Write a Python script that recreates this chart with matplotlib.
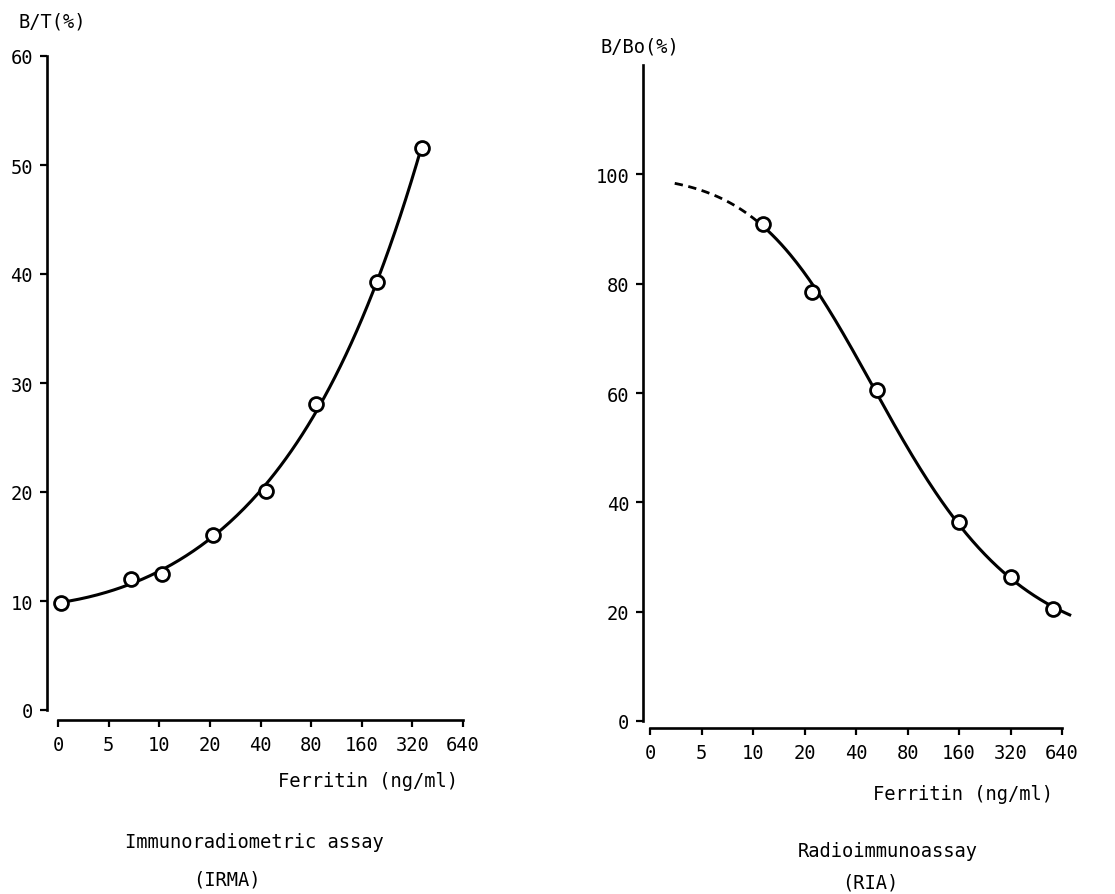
#!/usr/bin/env python3
# -*- coding: utf-8 -*-
"""
Ferritin standard curves: IRMA (B/T) and RIA (B/B0) on a doubling-dilution axis.
"""

import numpy as np
import matplotlib
matplotlib.use("Agg")
import matplotlib.pyplot as plt

# ---- data -----------------------------------------------------------------
x_ticks = [0, 5, 10, 20, 40, 80, 160, 320, 640]

# IRMA standards: ferritin (ng/ml) vs bound/total (%)
irma_conc = [0.3, 6.8, 10.4, 21, 43, 86, 197, 365]
irma_bt = [9.8, 12.0, 12.5, 16.1, 20.1, 28.1, 39.3, 51.6]
irma_yticks = [0, 10, 20, 30, 40, 50, 60]

# RIA standards: ferritin (ng/ml) vs B/B0 (%)
ria_conc = [11.4, 22, 53, 160, 320, 570]
ria_bb0 = [91.0, 78.5, 60.6, 36.4, 26.4, 20.5]
ria_yticks = [0, 20, 40, 60, 80, 100]
ria_dash_start = 2.4    # extrapolated (dashed) part of the fit begins here
ria_curve_end = 710     # fitted line carried a little past the last standard

FONT = "DejaVu Sans Mono"
FS = 13.5
plt.rcParams["font.family"] = FONT


# 0..5 linear, then one step per doubling
def fwd(c):
    c = np.asarray(c, dtype=float)
    return np.where(c < 5, c / 5.0, np.log2(np.maximum(c, 5) / 5.0) + 1)


def inv(p):
    p = np.asarray(p, dtype=float)
    return np.where(p < 1, p * 5.0, 5.0 * 2 ** (np.maximum(p, 1) - 1))


def style_axes(ax, ymax, yticks, left_off, bottom_off):
    ax.set_xscale("function", functions=(fwd, inv))
    ax.set_xlim(0, 640)
    ax.set_ylim(0, ymax)
    ax.set_xticks(x_ticks)
    ax.set_xticklabels([str(t) for t in x_ticks])
    ax.set_yticks(yticks)
    ax.minorticks_off()
    for s in ("top", "right"):
        ax.spines[s].set_visible(False)
    ax.spines["left"].set_position(("outward", left_off))
    ax.spines["bottom"].set_position(("outward", bottom_off))
    ax.spines["left"].set_bounds(0, ymax)
    ax.spines["bottom"].set_bounds(0, 640)
    for s in ("left", "bottom"):
        ax.spines[s].set_linewidth(1.9)
    ax.tick_params(axis="both", direction="out", length=5, width=1.6,
                   labelsize=FS, colors="black")
    ax.tick_params(axis="x", pad=6)
    ax.tick_params(axis="y", pad=5)
    ax.patch.set_visible(False)


fig = plt.figure(figsize=(11.15, 8.95), dpi=100)
W, H = 1115.0, 895.0

# ---- IRMA -------------------------------------------------------------
ax1 = fig.add_axes([58 / W, (H - 711) / H, 405 / W, 654 / H])
style_axes(ax1, 60, irma_yticks, 8, 7)

# smooth fit: cubic in log(B/T) against dilution step
p_irma = fwd(irma_conc)
coef = np.polyfit(p_irma, np.log(irma_bt), 3)
pp = np.linspace(p_irma.min(), p_irma.max(), 200)
ax1.plot(inv(pp), np.exp(np.polyval(coef, pp)), color="black", lw=2.2,
         clip_on=False, zorder=2)
ax1.plot(irma_conc, irma_bt, "o", ms=10, mfc="white", mec="black", mew=2.0,
         clip_on=False, zorder=3)

# ---- RIA --------------------------------------------------------------
ax2 = fig.add_axes([650 / W, (H - 722) / H, 412 / W, 656 / H])
style_axes(ax2, 120, ria_yticks, 5, 5)

# logit-quadratic fit through the standards
p_ria = fwd(ria_conc)
bb = np.asarray(ria_bb0) / 100.0
coef2 = np.polyfit(p_ria, np.log(1.0 / bb - 1.0), 2)


def ria_fit(p):
    return 100.0 / (1.0 + np.exp(np.polyval(coef2, p)))


ps = np.linspace(p_ria.min(), float(fwd(ria_curve_end)), 200)
ax2.plot(inv(ps), ria_fit(ps), color="black", lw=2.2, clip_on=False, zorder=2)
pdsh = np.linspace(float(fwd(ria_dash_start)), p_ria.min(), 80)
ax2.plot(inv(pdsh), ria_fit(pdsh), color="black", lw=2.0,
         linestyle=(0, (3, 2)), clip_on=False, zorder=2)
ax2.plot(ria_conc, ria_bb0, "o", ms=10, mfc="white", mec="black", mew=2.0,
         clip_on=False, zorder=3)

# ---- labels -----------------------------------------------------------
def ftext(x, y, s, **kw):
    fig.text(x / W, 1 - y / H, s, fontsize=FS, ha="center", va="center",
             family=FONT, **kw)


ftext(52, 22, "B/T(%)")
ftext(640, 47, "B/Bo(%)")
ftext(368, 782, "Ferritin (ng/ml)")
ftext(963, 795, "Ferritin (ng/ml)")
ftext(254, 843, "Immunoradiometric assay")
ftext(227, 880, "(IRMA)")
ftext(888, 852, "Radioimmunoassay")
ftext(870, 883, "(RIA)")

fig.savefig("out.png", dpi=100)
